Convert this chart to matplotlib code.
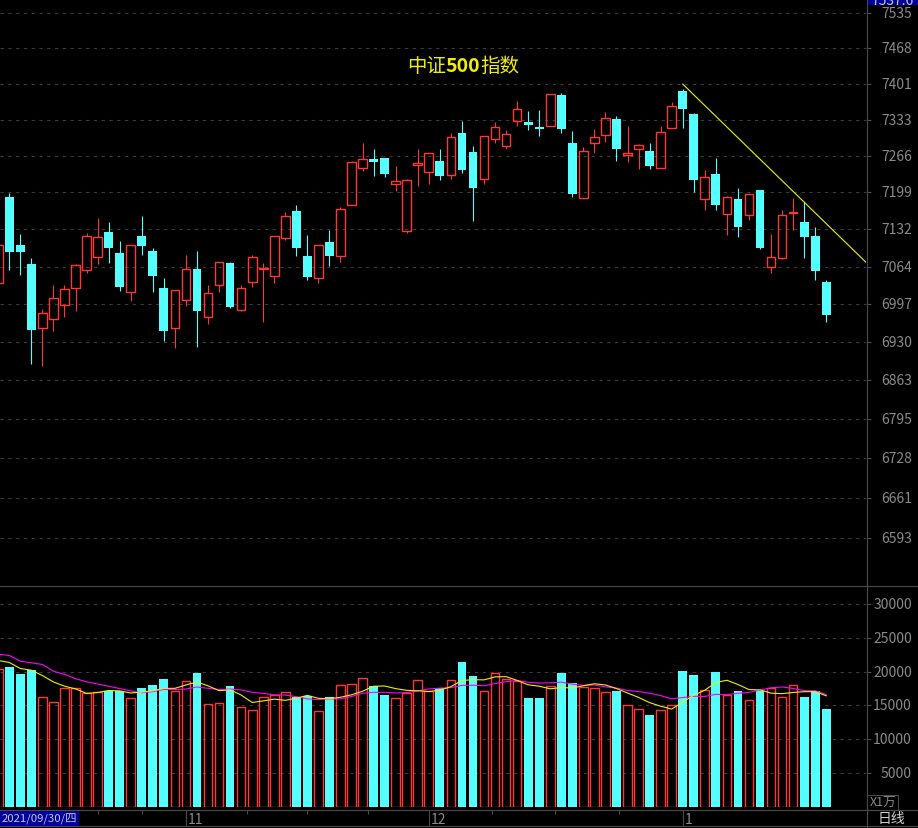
import numpy as np
import pandas as pd
import matplotlib
matplotlib.use("Agg")
import matplotlib.pyplot as plt
from matplotlib import transforms
from matplotlib.patches import Rectangle
from matplotlib.lines import Line2D
from matplotlib.ticker import FixedLocator, NullLocator, NullFormatter

plt.rcParams["font.family"] = ["Liberation Sans Narrow", "Noto Sans CJK SC", "DejaVu Sans"]

# 中证500 daily bars, 2021/09/30 .. 2022/01/21
opens = [7035, 7191, 7103, 7069, 6955, 6970, 6995, 7025, 7059, 7081,
         7127, 7089, 7018, 7120, 7092, 7026, 6954, 7004, 7060, 6974,
         7031, 7071, 6986, 7036, 7060, 7048, 7116, 7165, 7083, 7043,
         7109, 7083, 7176, 7244, 7260, 7262, 7215, 7129, 7250, 7237,
         7257, 7231, 7309, 7273, 7224, 7298, 7285, 7331, 7329, 7320,
         7322, 7379, 7290, 7189, 7289, 7304, 7335, 7268, 7279, 7275,
         7244, 7318, 7387, 7344, 7186, 7233, 7160, 7187, 7158, 7203,
         7063, 7079, 7162, 7145, 7120, 7037]
highs = [7107, 7198, 7123, 7080, 6988, 7031, 7031, 7069, 7125, 7152,
         7145, 7110, 7104, 7156, 7098, 7044, 7023, 7085, 7092, 7031,
         7073, 7073, 7031, 7085, 7071, 7120, 7163, 7176, 7121, 7104,
         7130, 7172, 7257, 7290, 7279, 7263, 7247, 7224, 7279, 7272,
         7279, 7309, 7331, 7284, 7303, 7329, 7314, 7368, 7350, 7351,
         7381, 7383, 7312, 7283, 7316, 7348, 7340, 7322, 7288, 7290,
         7322, 7366, 7391, 7346, 7240, 7262, 7193, 7207, 7196, 7204,
         7123, 7166, 7189, 7181, 7136, 7040]
lows = [7031, 7059, 7050, 6892, 6887, 6950, 6975, 6984, 7052, 7068,
        7070, 7021, 7003, 7086, 7018, 6931, 6920, 6993, 6922, 6962,
        7019, 6991, 6985, 7028, 6966, 7034, 7113, 7084, 7041, 7034,
        7066, 7073, 7175, 7239, 7229, 7228, 7201, 7125, 7211, 7215,
        7222, 7224, 7235, 7147, 7215, 7290, 7278, 7322, 7314, 7302,
        7321, 7309, 7191, 7188, 7272, 7291, 7257, 7255, 7241, 7242,
        7243, 7317, 7318, 7200, 7167, 7167, 7122, 7118, 7149, 7096,
        7053, 7078, 7131, 7079, 7041, 6966]
closes = [7103, 7091, 7091, 6952, 6981, 7008, 7024, 7067, 7119, 7117,
          7098, 7027, 7103, 7102, 7048, 6950, 7022, 7060, 6985, 7017,
          7072, 6992, 7025, 7081, 7062, 7119, 7155, 7098, 7046, 7103,
          7084, 7168, 7254, 7260, 7255, 7233, 7219, 7221, 7253, 7271,
          7229, 7301, 7240, 7207, 7302, 7319, 7306, 7353, 7324, 7315,
          7381, 7315, 7196, 7275, 7301, 7336, 7279, 7271, 7286, 7248,
          7310, 7358, 7354, 7222, 7228, 7176, 7190, 7135, 7195, 7098,
          7081, 7157, 7163, 7118, 7057, 6977]
# volume in units of 1万
volume = [20330, 20630, 19630, 20230, 16320, 15580, 17510, 17620, 16870, 17020,
          17070, 17210, 16030, 17560, 18000, 18850, 17210, 18550, 19780, 15140,
          15290, 17810, 14690, 14250, 16320, 16580, 16920, 16280, 16370, 14100,
          16320, 17960, 18110, 19000, 17810, 16520, 16030, 16810, 18700, 17210,
          17510, 18700, 21370, 19290, 17070, 19740, 18850, 18600, 16030, 16030,
          17810, 19780, 18300, 17660, 17510, 16920, 17110, 14990, 14400, 13650,
          14250, 14990, 20180, 19490, 17360, 20030, 16580, 17070, 15730, 17110,
          17620, 16180, 17960, 16320, 17110, 14540]
# the 9 sessions before 09/30, only feed the volume moving averages
vol_prior = [22550, 28080, 22610, 18840, 25590, 22110, 24090, 21500, 20300]

price_ticks = [6593, 6661, 6728, 6795, 6863, 6930, 6997, 7064, 7132,
               7199, 7266, 7333, 7401, 7468, 7535]
vol_ticks = [5000, 10000, 15000, 20000, 25000, 30000]
month_start = [17, 39, 62]
month_labels = ["11", "12", "1"]
week_marks = [9, 13, 22.5, 28, 33.5, 44.7, 50.4, 56.2]
first_date = "2021/09/30/四"
title_parts = [("中证", "normal"), ("500", "bold"), ("指数", "normal")]
# drawn trend line through the two highs
trend_x = [62, 73]
trend_y = [7400, 7181]

BG = "black"
UP = "#FF3636"
DOWN = "#54FFFF"
EDGE = "#4A4A4A"
GRID = "#3A3A3A"
LABEL = "#8A8A8A"
W, H = 918, 829
XLIM = (0.158, 78.6)
CJK = ["Noto Sans CJK SC", "DejaVu Sans"]


def box(x0, y0, x1, y1):
    # figure rect from pixel corners (origin top-left)
    return [x0 / W, 1 - y1 / H, (x1 - x0) / W, (y1 - y0) / H]


fig = plt.figure(figsize=(W / 100, H / 100), dpi=100, facecolor=BG)
ax = fig.add_axes(box(0, 0, 866, 587), facecolor=BG)
axv = fig.add_axes(box(0, 588, 866, 807.5), facecolor=BG, sharex=ax)
axd = fig.add_axes(box(0, 811, 866, 827), facecolor=BG, sharex=ax)

x = np.arange(len(closes))
o, h, l, c = (np.array(a, dtype=float) for a in (opens, highs, lows, closes))
up = c >= o
lo = np.minimum(o, c)
hi = np.maximum(o, c)

# candles
ax.vlines(x[~up], l[~up], h[~up], color=DOWN, lw=0.8, zorder=2)
ax.vlines(x[up], hi[up], h[up], color=UP, lw=0.8, zorder=2)
ax.vlines(x[up], l[up], lo[up], color=UP, lw=0.8, zorder=2)
ax.bar(x[~up], hi[~up] - lo[~up], bottom=lo[~up], width=0.79,
       color=DOWN, lw=0, zorder=3)
ax.bar(x[up], hi[up] - lo[up], bottom=lo[up], width=0.79,
       facecolor="none", edgecolor=UP, lw=1.0, zorder=3)

# trend line, extended to the right edge (straight on the log axis)
slope = (np.log(trend_y[1]) - np.log(trend_y[0])) / (trend_x[1] - trend_x[0])
tx = np.array([trend_x[0], XLIM[1]])
ty = np.exp(np.log(trend_y[0]) + slope * (tx - trend_x[0]))
ax.plot(tx, ty, color="#F0F000", lw=0.8, zorder=4)

ax.set_yscale("log")
ax.set_ylim(6512.9, 7561.9)
ax.set_xlim(*XLIM)
ax.yaxis.set_major_locator(FixedLocator(price_ticks))
ax.yaxis.set_minor_locator(NullLocator())
ax.yaxis.set_major_formatter(NullFormatter())
ax.yaxis.set_minor_formatter(NullFormatter())
ax.grid(axis="y", color=GRID, linestyle=(0, (3, 4)), lw=0.8)

# volume
vol = np.array(volume, dtype=float)
axv.bar(x[~up], vol[~up], width=0.79, color=DOWN, lw=0, zorder=2)
axv.bar(x[up], vol[up], width=0.79, facecolor="none", edgecolor=UP,
        lw=1.0, zorder=2)
full = pd.Series(np.r_[vol_prior, vol])
ma5 = full.rolling(5).mean().to_numpy()[len(vol_prior):]
ma10 = full.rolling(10).mean().to_numpy()[len(vol_prior):]
axv.plot(x, ma10, color="#FF00FF", lw=0.8, zorder=3)
axv.plot(x, ma5, color="#F0F000", lw=0.8, zorder=4)
axv.set_ylim(0, 32570)
axv.yaxis.set_major_locator(FixedLocator(vol_ticks))
axv.yaxis.set_major_formatter(NullFormatter())
axv.grid(axis="y", color=GRID, linestyle=(0, (3, 4)), lw=0.8)

for a in (ax, axv, axd):
    for s in a.spines.values():
        s.set_visible(False)
    a.tick_params(axis="x", bottom=False, labelbottom=False)
    a.yaxis.tick_right()
    a.tick_params(axis="y", which="both", length=3.6, width=0.8,
                  color=EDGE, labelright=False, labelleft=False)
axd.set_yticks([])
axd.set_ylim(0, 1)

# right-hand labels
tp = transforms.blended_transform_factory(fig.transFigure, ax.transData)
for v in price_ticks:
    ax.text(912 / W, v, str(v), transform=tp, ha="right", va="center",
            color=LABEL, fontsize=10, clip_on=False)
tv = transforms.blended_transform_factory(fig.transFigure, axv.transData)
for v in vol_ticks:
    axv.text(912 / W, v, str(v), transform=tv, ha="right", va="center",
             color=LABEL, fontsize=10, clip_on=False)

# date bar
axd.vlines(week_marks, 0.78, 1, color=EDGE, lw=0.8)
for i, lab in zip(month_start, month_labels):
    axd.axvline(i, color=EDGE, lw=0.8)
    axd.text(i + 0.2, 0.45, lab, color=LABEL, fontsize=10, va="center")

# frame lines (pixel space)
px = transforms.Affine2D().scale(1 / W, -1 / H).translate(0, 1) + fig.transFigure
for xs, ys in [([866.5, 866.5], [0, 829]), ([0, 918], [587, 587]),
               ([0, 918], [811, 811]), ([0, 918], [827, 827])]:
    fig.add_artist(Line2D(xs, ys, color=EDGE, lw=0.8, transform=px))
fig.add_artist(Rectangle((867, 796), 31, 15, transform=px,
                         facecolor=BG, edgecolor=EDGE, lw=0.8))
fig.add_artist(Rectangle((0, 811), 79, 16, transform=px,
                         facecolor="#0000A0", edgecolor="none"))
fig.add_artist(Rectangle((867, -2), 51, 8, transform=px,
                         facecolor="#0000A0", edgecolor="none"))

fig.text(1.5 / W, 1 - 819.5 / H, first_date, color="#C8C8C8", fontsize=8.2,
         va="center", ha="left")
fig.text(892 / W, 1 - 5 / H, "7537.6", color="#C8C8C8", fontsize=10,
         va="baseline", ha="center")
fig.text(883 / W, 1 - 803.5 / H, "X1万", color=LABEL, fontsize=9,
         va="center", ha="center")
fig.text(891 / W, 1 - 819.5 / H, "日线", color="#D0D0D0", fontsize=10,
         va="center", ha="center", family=CJK)

# title: bold digits between regular CJK, centred as one line
pieces = [fig.text(0, 1 - 66 / H, s, color="#F0F000", fontsize=14,
                   fontweight=wt, va="center", ha="left", family=CJK)
          for s, wt in title_parts]
fig.canvas.draw()
r = fig.canvas.get_renderer()
widths = [t.get_window_extent(r).width for t in pieces]
left = 463 - sum(widths) / 2
for t, wd in zip(pieces, widths):
    t.set_x(left / W)
    left += wd

fig.savefig("out.png", dpi=100, facecolor=BG)
